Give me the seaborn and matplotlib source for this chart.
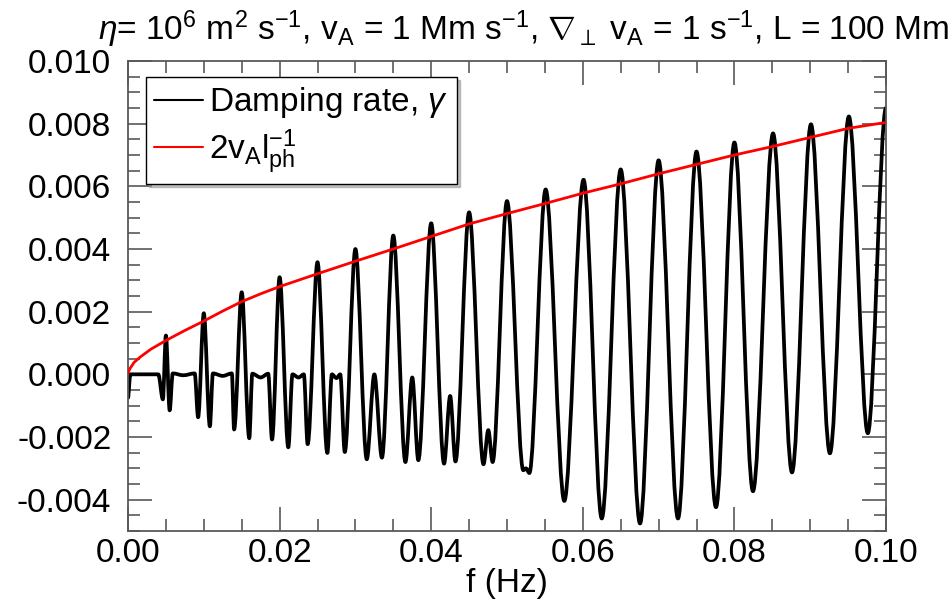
import numpy as np
import pandas as pd
import seaborn as sns
import matplotlib
matplotlib.use("Agg")
import matplotlib.pyplot as plt
from matplotlib.path import Path
from matplotlib.patches import PathPatch
from matplotlib.lines import Line2D
from matplotlib.ticker import MultipleLocator, FormatStrFormatter

# ---- data (key points: extrema and plateau edges) ----
f_gamma = [0.0000, 0.0003, 0.0040, 0.0046, 0.0050, 0.0055, 0.0059, 0.0073, 0.0088,
           0.00925, 0.0100, 0.0108, 0.0112, 0.0125, 0.0137,
           0.0140, 0.0150, 0.0160, 0.0164, 0.0175, 0.0185,
           0.0190, 0.0200, 0.02115, 0.0217, 0.0225, 0.0232,
           0.0237, 0.0250, 0.0263, 0.0269, 0.0275, 0.0280,
           0.0286, 0.0300, 0.0315, 0.0325, 0.0335,
           0.0350, 0.0366, 0.0375, 0.0383,
           0.0400, 0.0417, 0.0425, 0.0432,
           0.0450, 0.0469, 0.04753, 0.0481,
           0.0500, 0.05215, 0.0525, 0.05295,
           0.0551, 0.05756, 0.0601, 0.0625, 0.0650, 0.06755, 0.0700, 0.07256,
           0.0750, 0.07757, 0.0800, 0.08245, 0.0851, 0.0876, 0.0901, 0.0926,
           0.0951, 0.0976, 0.1000]
gamma = [-0.00075, 0.00000, 0.00000, -0.00080, 0.00124, -0.00115, 0.00003, -0.00003, 0.00003,
         -0.00137, 0.00195, -0.00166, 0.00003, -0.00005, 0.00003,
         -0.00176, 0.00262, -0.00204, 0.00002, -0.00010, 0.00002,
         -0.00208, 0.00310, -0.00233, 0.00000, -0.00010, 0.00000,
         -0.00223, 0.00358, -0.00251, 0.00000, -0.00012, 0.00000,
         -0.00248, 0.00400, -0.00271, 0.00000, -0.00266,
         0.00443, -0.00280, -0.00010, -0.00274,
         0.00482, -0.00285, -0.00069, -0.00278,
         0.00517, -0.00287, -0.00178, -0.00280,
         0.00553, -0.00306, -0.00300, -0.00315,
         0.00590, -0.00404, 0.00621, -0.00460, 0.00654, -0.00476, 0.00683, -0.00460,
         0.00711, -0.00424, 0.00740, -0.00373, 0.00769, -0.00313, 0.00798, -0.00252,
         0.00823, -0.00188, 0.00850]

f_red = [0.0, 0.0003, 0.0008, 0.0016, 0.003, 0.005, 0.0075, 0.01, 0.0125, 0.015, 0.0175,
         0.02, 0.025, 0.03, 0.035, 0.04, 0.045, 0.05, 0.055, 0.06, 0.065, 0.07, 0.075,
         0.08, 0.085, 0.09, 0.095, 0.1]
red_vals = [0.00005, 0.00020, 0.00038, 0.00055, 0.00080, 0.00108, 0.00140, 0.00170, 0.00202,
            0.00232, 0.00257, 0.00280, 0.00321, 0.00361, 0.00400, 0.00440, 0.00480, 0.00513,
            0.00545, 0.00578, 0.00608, 0.00640, 0.00670, 0.00700, 0.00727, 0.00756, 0.00785,
            0.00804]

x_ticks = [0.00, 0.02, 0.04, 0.06, 0.08, 0.10]
y_ticks = [-0.004, -0.002, 0.000, 0.002, 0.004, 0.006, 0.008, 0.010]

title = (r"$\eta$= 10$^{6}$ m$^{2}$ s$^{-1}$, v$_\mathrm{A}$ = 1 Mm s$^{-1}$, "
         r"$\nabla_{\perp}$ v$_\mathrm{A}$ = 1 s$^{-1}$, L = 100 Mm")
label_gamma = r"Damping rate, $\gamma$"
label_red = r"2v$_\mathrm{A}$l$_\mathrm{ph}^{-1}$"

# ---- style ----
sns.set_theme(style="ticks")
plt.rcParams["font.family"] = ["Liberation Sans", "DejaVu Sans"]
plt.rcParams["mathtext.fontset"] = "custom"
plt.rcParams["mathtext.rm"] = "Liberation Sans"
plt.rcParams["mathtext.it"] = "Liberation Sans:italic"
plt.rcParams["mathtext.bf"] = "Liberation Sans:bold"
plt.rcParams["axes.unicode_minus"] = False
plt.rcParams["text.color"] = "black"
plt.rcParams["axes.labelcolor"] = "black"

FS = 24
fig = plt.figure(figsize=(9.49, 6.05), dpi=100)
ax = fig.add_axes([128 / 949, 1 - 531 / 605, 758 / 949, 470 / 605])

# black damping-rate curve: smooth Bezier path through the read key points
verts = [(f_gamma[0], gamma[0])]
codes = [Path.MOVETO]
for i in range(len(f_gamma) - 1):
    h = f_gamma[i + 1] - f_gamma[i]
    verts += [(f_gamma[i] + h / 3, gamma[i]), (f_gamma[i + 1] - h / 3, gamma[i + 1]),
              (f_gamma[i + 1], gamma[i + 1])]
    codes += [Path.CURVE4] * 3
patch = PathPatch(Path(verts, codes), facecolor="none", edgecolor="black", lw=2.7,
                  joinstyle="round", capstyle="round", transform=ax.transData, zorder=2)
ax.add_patch(patch)

# red curve
df_red = pd.DataFrame({"f": f_red, "v": red_vals})
sns.lineplot(data=df_red, x="f", y="v", color="red", lw=2.0, ax=ax, zorder=3)

ax.set_xlim(0, 0.1)
ax.set_ylim(-0.005, 0.010)
ax.set_xticks(x_ticks)
ax.set_yticks(y_ticks)
ax.xaxis.set_minor_locator(MultipleLocator(0.005))
ax.yaxis.set_minor_locator(MultipleLocator(0.0005))
ax.xaxis.set_major_formatter(FormatStrFormatter("%.2f"))
ax.yaxis.set_major_formatter(FormatStrFormatter("%.3f"))
ax.tick_params(which="both", direction="in", top=True, right=True, color="0.35",
               width=1.2, labelsize=FS, labelcolor="black")
ax.tick_params(which="major", length=17)
ax.tick_params(which="minor", length=8.5)
ax.tick_params(axis="y", which="major", pad=12)
ax.tick_params(axis="x", which="major", pad=5)
for s in ax.spines.values():
    s.set_color("0.35")
    s.set_linewidth(1.3)
ax.set_xlabel("f (Hz)", fontsize=FS, labelpad=-1, color="black")
ax.set_ylabel("")

fig.text(524 / 949, 1 - 29 / 605, title, ha="center", va="center", fontsize=FS,
         color="black")

h_black = Line2D([], [], color="black", lw=1.5)
h_red = Line2D([], [], color="red", lw=1.5)
leg = ax.legend([h_black, h_red], [label_gamma, label_red], loc="upper left",
                bbox_to_anchor=((146 - 128) / 758, (531 - 77) / 470), borderaxespad=0,
                fontsize=FS, frameon=True, fancybox=False, edgecolor="black",
                framealpha=1, handlelength=1.45, handletextpad=0.2, labelspacing=0.2,
                borderpad=0.25, shadow={"color": "0.6", "alpha": 0.6},
                labelcolor="black")
leg.get_frame().set_linewidth(1.0)

fig.savefig("out.png", dpi=100)
